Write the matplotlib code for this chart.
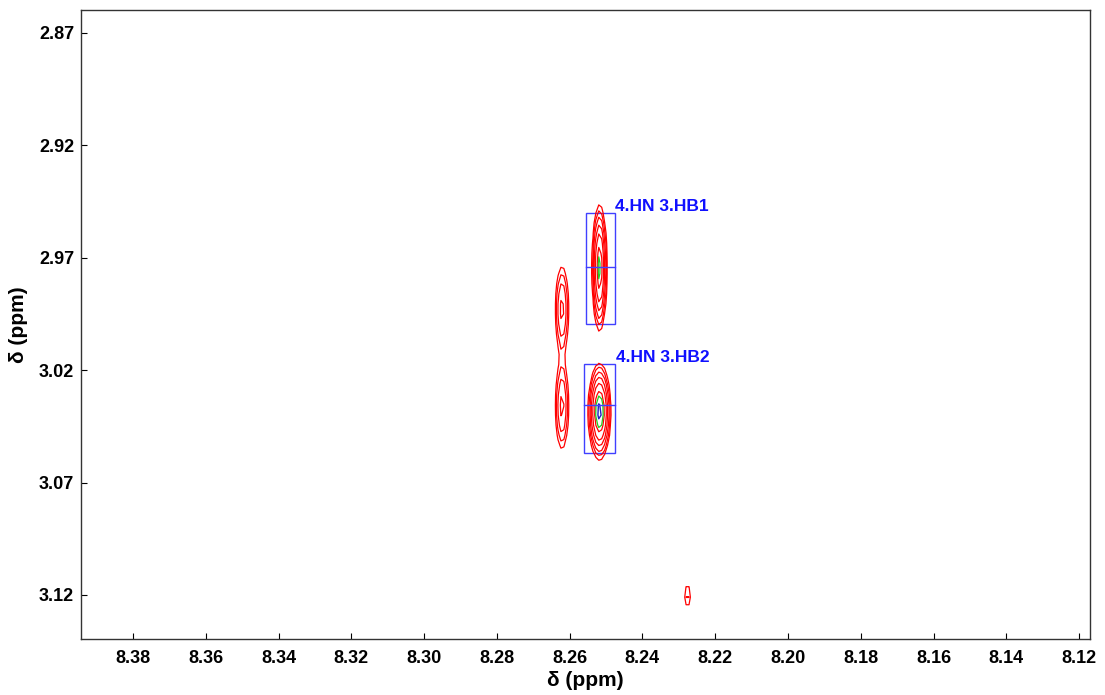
import numpy as np
import matplotlib.pyplot as plt
from matplotlib.patches import Rectangle

# peak list: x (ppm), y (ppm), sigma x, sigma y, height
peak_x = [8.2518, 8.2518, 8.2621, 8.2621, 8.2276]
peak_y = [2.9745, 3.0385, 2.9930, 3.0360, 3.1205]
peak_sx = [0.00095, 0.0014, 0.0011, 0.0011, 0.0007]
peak_sy = [0.0130, 0.0095, 0.0115, 0.0115, 0.0045]
peak_h = [10.0, 12.0, 3.8, 3.8, 1.8]

# assignment boxes: x0, x1, y0, y1, middle line, label
box_x0 = [8.2556, 8.2560]
box_x1 = [8.2476, 8.2475]
box_y0 = [2.9500, 3.0173]
box_y1 = [2.9993, 3.0569]
box_mid = [2.9740, 3.0355]
box_labels = ["4.HN 3.HB1", "4.HN 3.HB2"]

x_ticks = [8.38, 8.36, 8.34, 8.32, 8.30, 8.28, 8.26, 8.24, 8.22, 8.20, 8.18, 8.16, 8.14, 8.12]
y_ticks = [2.87, 2.92, 2.97, 3.02, 3.07, 3.12]

contour_levels = [1.0, 1.5, 2.25, 3.4, 5.0, 7.6]

plt.rcParams['font.family'] = ['Liberation Sans', 'DejaVu Sans']

# coarse spectrum grid
gx = np.arange(8.12, 8.395, 0.0008)
gy = np.arange(2.86, 3.14, 0.0045)
X, Y = np.meshgrid(gx, gy)
Z = np.zeros_like(X)
for px, py, sx, sy, h in zip(peak_x, peak_y, peak_sx, peak_sy, peak_h):
    Z += h * np.exp(-0.5 * ((X - px) / sx) ** 2 - 0.5 * ((Y - py) / sy) ** 2)

fig = plt.figure(figsize=(11.05, 6.95), dpi=100)
ax = fig.add_axes([0.0733, 0.0806, 0.9131, 0.905])

ax.contour(X, Y, Z, levels=contour_levels, colors='red', linewidths=0.9)
ax.contour(X, Y, Z, levels=[9.0], colors='#22cc22', linewidths=0.9)
ax.contour(X, Y, Z, levels=[11.0], colors='#2020c0', linewidths=1.0)

for x0, x1, y0, y1, ym, lab in zip(box_x0, box_x1, box_y0, box_y1, box_mid, box_labels):
    ax.add_patch(Rectangle((x1, y0), x0 - x1, y1 - y0, fill=False,
                           edgecolor='#4040ff', linewidth=1.0))
    ax.plot([x0, x1], [ym, ym], color='#4040ff', linewidth=1.0)
    ax.text(x1 - 0.0001, y0 + 0.0005, lab, color='#1010ff', fontsize=12.5,
            fontweight='bold', ha='left', va='bottom')

ax.set_xlim(8.3943, 8.117)
ax.set_ylim(3.1396, 2.8598)
ax.set_xticks(x_ticks)
ax.set_xticklabels([f"{v:.2f}" for v in x_ticks])
ax.set_yticks(y_ticks)
ax.set_yticklabels([f"{v:.2f}" for v in y_ticks])
ax.tick_params(axis='both', direction='in', length=4, width=0.8, labelsize=13)
ax.tick_params(axis='x', pad=8)
ax.tick_params(axis='y', pad=5)
for lbl in ax.get_xticklabels() + ax.get_yticklabels():
    lbl.set_fontweight('bold')
ax.set_xlabel("δ (ppm)", fontsize=15, fontweight='bold', labelpad=3)
ax.set_ylabel("δ (ppm)", fontsize=15, fontweight='bold', labelpad=8)
for sp in ax.spines.values():
    sp.set_linewidth(1.0)
    sp.set_color('#333333')

fig.savefig("out.png", dpi=100)
